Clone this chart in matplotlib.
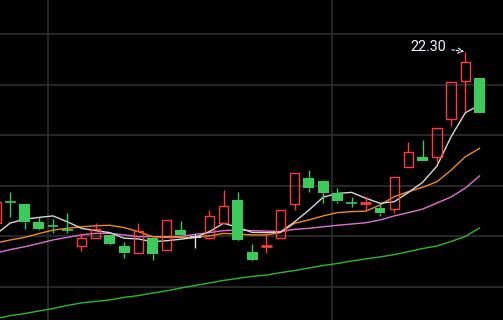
import numpy as np
import matplotlib
matplotlib.use("Agg")
import matplotlib.pyplot as plt

# ---- data ----
idx = list(range(-1, 34))
opens = [15.54, 16.37, 16.28, 15.57, 15.41, 15.26, 14.63, 14.93, 15.06, 14.62, 14.36, 14.94, 14.47,
         15.25, 14.99, 14.95, 15.54, 16.44, 14.38, 14.58, 14.95, 16.29, 17.31, 17.19, 16.72, 16.34,
         16.28, 16.11, 16.07, 17.73, 18.14, 18.13, 19.65, 21.13, 21.26]
closes = [16.36, 16.35, 15.58, 15.29, 15.39, 15.24, 14.93, 15.28, 14.71, 14.36, 15.21, 14.32, 15.64,
          15.04, 14.99, 15.81, 16.19, 14.86, 14.07, 14.66, 16.04, 17.51, 16.91, 16.73, 16.41, 16.32,
          16.36, 15.91, 17.35, 18.32, 17.99, 19.27, 21.09, 21.88, 19.89]
highs = [16.36, 16.75, 16.28, 15.75, 15.69, 15.92, 15.12, 15.52, 15.06, 14.78, 15.53, 14.94, 15.64,
         15.61, 15.08, 16.04, 16.83, 16.75, 14.70, 15.12, 16.04, 17.51, 17.62, 17.23, 16.91, 16.55,
         16.60, 16.31, 17.35, 18.73, 18.81, 19.27, 21.09, 22.30, 21.26]
lows = [15.54, 15.78, 15.29, 15.25, 15.12, 15.15, 14.43, 14.93, 14.67, 14.16, 14.36, 14.07, 14.47,
        15.04, 14.55, 14.89, 15.54, 14.82, 14.03, 14.33, 14.95, 16.03, 16.75, 16.31, 16.33, 16.17,
        16.06, 15.82, 15.94, 17.73, 17.97, 17.91, 19.38, 19.97, 19.89]

ma5 = [15.09, 15.53, 15.68, 15.75, 15.81, 15.58, 15.32, 15.23, 15.15, 14.93, 14.90, 14.79, 14.83,
       14.89, 14.96, 15.19, 15.52, 15.36, 15.16, 15.15, 15.17, 15.58, 16.04, 16.55, 16.70, 16.74,
       16.51, 16.31, 16.37, 16.74, 17.14, 17.78, 18.94, 19.89, 20.19]
ma10 = [14.74, 14.86, 14.96, 15.11, 15.25, 15.32, 15.38, 15.42, 15.44, 15.35, 15.19, 14.99, 14.96,
        14.96, 14.96, 15.02, 15.12, 15.09, 15.06, 15.06, 15.15, 15.52, 15.65, 15.81, 15.94, 15.98,
        16.00, 16.24, 16.57, 16.77, 16.94, 17.16, 17.62, 18.15, 18.48]
ma20 = [14.34, 14.48, 14.59, 14.72, 14.86, 14.96, 15.06, 15.12, 15.12, 15.06, 14.99, 14.99, 14.99,
        15.00, 15.08, 15.15, 15.23, 15.25, 15.23, 15.21, 15.19, 15.28, 15.32, 15.38, 15.44, 15.49,
        15.54, 15.65, 15.81, 15.94, 16.08, 16.32, 16.56, 16.91, 17.39]
ma60 = [11.75, 11.87, 11.95, 12.05, 12.15, 12.27, 12.37, 12.43, 12.49, 12.59, 12.66, 12.76, 12.85,
        12.96, 13.06, 13.16, 13.26, 13.34, 13.42, 13.47, 13.57, 13.65, 13.75, 13.85, 13.93, 14.03,
        14.11, 14.19, 14.28, 14.40, 14.52, 14.62, 14.80, 15.00, 15.33]

grid_prices = [23, 21, 19, 17, 15, 13]
grid_days = [2.65, 22.62]
peak_label = "22.30"
peak_day = 32
peak_price = 22.30

# ---- styling ----
RED = "#ff3b3b"
GREEN = "#3ccb5a"
WHITE_DOJI = "#e0e0e0"
BG = "#000000"
GRID = "#2b2b2b"

fig = plt.figure(figsize=(5.03, 3.20), dpi=100, facecolor=BG)
ax = fig.add_axes([0, 0, 1, 1])
ax.set_facecolor(BG)
ax.set_xlim(-0.7243, 34.648)
ax.set_ylim(11.696, 24.344)
ax.axis("off")

for gp in grid_prices:
    ax.axhline(gp, color=GRID, lw=1.3, zorder=0)
for gd in grid_days:
    ax.axvline(gd, color=GRID, lw=1.3, zorder=0)

x = np.array(idx, dtype=float)
ax.plot(x, ma60, color="#2db82d", lw=1.0, zorder=2)
ax.plot(x, ma20, color="#e070d8", lw=1.0, zorder=2)
ax.plot(x, ma10, color="#f08a1c", lw=1.0, zorder=2)
ax.plot(x, ma5, color="#d8d8d8", lw=1.0, zorder=2)

for xi, o, h, l, c in zip(x, opens, highs, lows, closes):
    top, bot = max(o, c), min(o, c)
    if c > o:
        col = RED
    elif c < o:
        col = GREEN
    else:
        col = WHITE_DOJI
    if h > top:
        ax.vlines(xi, top, h, color=col, lw=1.0, zorder=3)
    if l < bot:
        ax.vlines(xi, l, bot, color=col, lw=1.0, zorder=3)
    if top - bot < 0.09:
        ax.hlines((top + bot) / 2, xi - 0.38, xi + 0.38, color=col,
                  lw=1.2 if col != RED else 2.0, zorder=4)
    elif col == RED:
        ax.bar(xi, top - bot, bottom=bot, width=0.66, facecolor="none",
               edgecolor=RED, lw=1.0, zorder=4)
    else:
        ax.bar(xi, top - bot, bottom=bot, width=0.77, facecolor=col,
               edgecolor=col, lw=0, zorder=4)

ax.annotate(peak_label, xy=(peak_day - 0.08, peak_price + 0.01), xytext=(28.15, 22.50),
            ha="left", va="center", color="#eef4ff", fontsize=10.4,
            family=["Roboto", "DejaVu Sans"],
            arrowprops=dict(arrowstyle="->", color="#eef4ff", lw=0.8, linestyle=(0, (2.5, 1.5)),
                            shrinkA=2, shrinkB=0, mutation_scale=9),
            zorder=6)

fig.savefig("out.png", dpi=100, facecolor=BG)
